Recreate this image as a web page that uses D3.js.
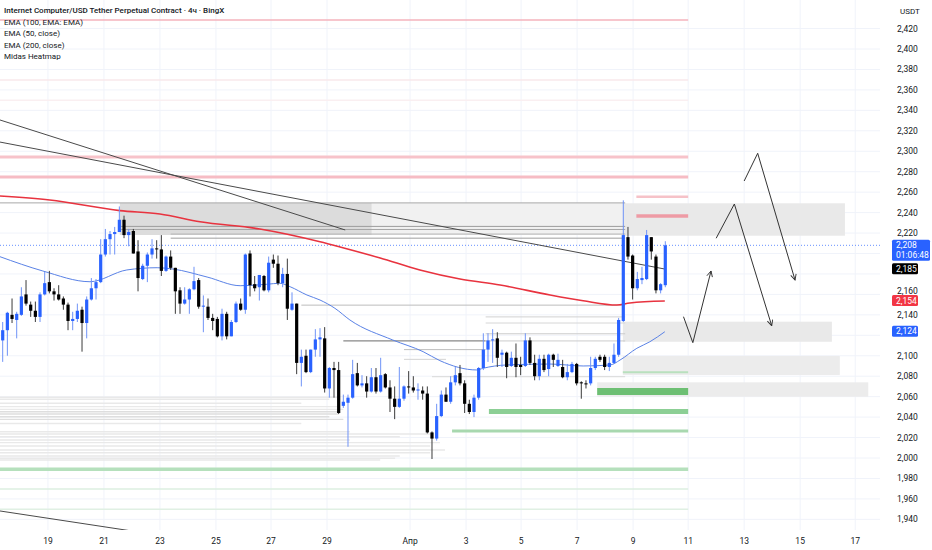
<!DOCTYPE html>
<html>
<head>
<meta charset="utf-8">
<script src="https://d3js.org/d3.v7.min.js"></script>
<style>
body { margin: 0; background: #ffffff; }
svg text { font-family: Roboto, "Open Sans", sans-serif; fill: #131722; }
</style>
</head>
<body>
<svg id="chart" width="932" height="550"></svg>
<script>

// 4h candles (oldest first)
var openP = [2115,2125,2140,2135,2140,2160,2150,2144,2138,2160,2172,2163,2160,2156,2150,2134,2136,2145,2132,2155,
  2166,2172,2199,2214,2219,2221,2233,2218,2222,2202,2175,2188,2199,2205,2204,2183,2197,2186,2164,2151,
  2155,2165,2174,2148,2148,2137,2136,2119,2141,2119,2133,2151,2145,2200,2170,2167,2178,2164,2194,2190,
  2171,2180,2145,2151,2093,2100,2084,2106,2116,2117,2068,2088,2086,2051,2054,2059,2083,2071,2073,2065,
  2079,2065,2082,2069,2058,2050,2058,2070,2069,2066,2066,2063,2025,2019,2041,2062,2055,2074,2083,2073,
  2053,2045,2059,2088,2106,2115,2117,2101,2103,2090,2098,2091,2090,2115,2093,2080,2097,2087,2101,2090,
  2089,2079,2084,2092,2074,2073,2073,2088,2099,2099,2089,2093,2101,2134,2216,2198,2166,2174,2175,2216,
  2197,2164,2169];
var highP = [2133,2143,2156,2143,2167,2174,2153,2153,2162,2182,2183,2166,2169,2158,2152,2143,2151,2148,2158,2176,
  2175,2214,2224,2222,2226,2246,2237,2224,2224,2213,2190,2201,2214,2213,2218,2198,2203,2186,2167,2167,
  2166,2187,2176,2159,2156,2141,2138,2146,2143,2135,2153,2156,2200,2203,2178,2179,2179,2197,2199,2198,
  2186,2195,2162,2151,2106,2106,2106,2126,2127,2128,2089,2094,2094,2062,2062,2096,2093,2081,2080,2088,
  2088,2098,2083,2076,2070,2089,2071,2085,2080,2073,2070,2070,2026,2053,2066,2069,2080,2089,2091,2076,
  2057,2062,2089,2122,2122,2126,2123,2106,2104,2104,2112,2099,2122,2118,2101,2101,2101,2102,2102,2102,
  2096,2092,2094,2093,2075,2076,2099,2099,2101,2101,2099,2112,2137,2252,2226,2199,2182,2187,2223,2216,
  2199,2171,2212];
var lowP = [2094,2100,2132,2117,2139,2149,2138,2133,2133,2159,2161,2154,2154,2145,2125,2125,2133,2104,2117,2154,
  2155,2171,2197,2199,2199,2221,2215,2207,2200,2163,2174,2172,2195,2195,2178,2182,2184,2141,2141,2150,
  2141,2164,2146,2123,2135,2125,2118,2115,2116,2119,2132,2144,2141,2158,2163,2154,2163,2162,2186,2169,
  2167,2135,2144,2082,2070,2083,2083,2099,2099,2064,2059,2059,2043,2049,2011,2058,2070,2069,2059,2064,
  2063,2064,2068,2045,2038,2049,2056,2063,2064,2057,2057,2024,1999,2017,2040,2055,2053,2071,2071,2044,
  2043,2040,2057,2086,2094,2093,2089,2089,2078,2089,2079,2081,2089,2091,2076,2076,2084,2080,2089,2089,
  2078,2076,2083,2071,2058,2068,2071,2086,2094,2086,2085,2092,2099,2133,2194,2155,2164,2170,2174,2194,
  2161,2161,2167];
var closeP = [2125,2142,2136,2141,2158,2151,2144,2138,2160,2171,2163,2160,2155,2150,2134,2136,2144,2132,2155,2166,
  2172,2199,2214,2219,2221,2233,2218,2221,2200,2176,2188,2199,2205,2204,2183,2197,2186,2163,2151,2155,
  2165,2173,2148,2149,2137,2134,2119,2141,2119,2133,2151,2145,2199,2169,2166,2179,2164,2191,2190,2171,
  2180,2146,2151,2093,2099,2084,2106,2116,2118,2068,2088,2086,2044,2055,2059,2082,2071,2073,2065,2079,
  2065,2081,2069,2058,2050,2058,2070,2069,2066,2067,2063,2025,2019,2041,2062,2055,2074,2081,2073,2053,
  2045,2059,2088,2106,2115,2116,2098,2103,2089,2098,2089,2089,2115,2093,2080,2097,2086,2101,2096,2096,
  2079,2084,2092,2073,2073,2072,2088,2097,2096,2089,2093,2101,2135,2218,2197,2166,2175,2176,2218,2202,
  2164,2170,2208];

// EMA 50 (blue) and EMA 200 (red): bar index / price
var ema50Idx = [-0.6,8.6,18.7,26.6,33.1,36.5,43.8,50.9,56.6,59.4,61.6,65.2,68,71.2,74.4,83.6,90.1,93.7,101.6,102.9,108,117.3,124.4,130.2,132.3,135.9,138.7,141.9];
var ema50Val = [2196.9,2182.9,2172.4,2183.9,2186.1,2184.8,2177,2168.5,2169.9,2170.9,2167.5,2159.4,2154.5,2146.4,2135,2115.4,2104,2095.2,2086.1,2087.7,2091,2091.9,2090,2091,2095.8,2107.3,2113.7,2123.5];
var ema200Idx = [-0.6,10.1,25.1,33.7,42.3,55.1,68,72.3,80.9,89.4,98,106.6,117.3,124.4,131.6,134.4,141.9];
var ema200Val = [2256.2,2252.3,2241.9,2238.6,2231.1,2224,2211.5,2206.4,2195.6,2183.9,2175.1,2169.2,2159.4,2153.8,2149.6,2151.6,2153.5];

// axes
var priceTicks = [1940,1960,1980,2000,2020,2040,2060,2080,2100,2120,2140,2160,2180,2200,2220,2240,2260,2280,2300,2320,2340,2360,2380,2400,2420];
var dateLabels = ["19","21","23","25","27","29","Апр","3","5","7","9","11","13","15","17"];
var dateIdx = [9.7,21.7,33.7,45.7,57.5,69.5,87.3,99.3,111.1,123.1,135.1,146.9,158.9,170.9,182.7];

// price tags on the right scale
var tagPrice = [2208,2185,2154,2124];
var tagText = ["2,208","2,185","2,154","2,124"];
var lastTimer = "01:06:48";

// legend
var legendLines = ["Internet Computer/USD Tether Perpetual Contract · 4ч · BingX","EMA (100, EMA: EMA)","EMA (50, close)","EMA (200, close)","Midas Heatmap"];

// hand drawn trend lines: [index, price] pairs
var trendFrom = [[-0.6,2330.6],[-0.6,2309],[-0.6,1948.2]];
var trendTo = [[73.4,2223],[141.9,2184.8],[27.7,1928.6]];

// hand drawn arrow paths
var arrowPts = [
  [[145.9,2138.2],[147.9,2112.8],[151.8,2182.9]],
  [[152.9,2214.9],[156.8,2248.4],[164.8,2129.4]],
  [[158.9,2270.9],[161.8,2298],[169.8,2174.1]]
];

// gray zones: from idx, to idx, top price, bottom price
var zoneFrom = [25.1,79.1,132.9,132.9,132.9,127.4];
var zoneTo = [79.1,133.4,180.5,177.7,179.4,185.5];
var zoneTop = [2249.4,2249.4,2249.1,2133.3,2099.8,2074];
var zoneBot = [2218.1,2218.1,2217.4,2113.7,2081.2,2060];

// heatmap levels
var pinkLevel = [2428.4,2369.7,2350,2294.4,2274.8,2255.6,2236.7];
var pinkFrom = [-1,-1,-1,-1,-1,135.8,135.8];
var greenLevel = [2065,2045.5,2083.8,2026.4,1989,1969.7,1950];
var greenFrom = [127.4,104.2,132.9,96.3,-1,-1,-1];
var heatEnd = 146.9;

var grayLevel = [2249.5,2226.5,2223.5,2219,2215,2149.5,2138,2132,2121.5,2114.5,2114.5,2106,2096.5,2079.5];
var grayFrom = [-1,25,25,36,36,64,103.5,103.5,103.5,73,103.5,86,86,92];
var grayTo = [133.4,133.4,133.4,133.4,133.4,133.4,133.4,133.4,133.4,103.5,133.4,103.5,95,133.4];

var faintLevel = [2059.4,2057.4,2053.5,2050.2,2047.6,2045.3,2043,2040.4,2037.8,2033.8,2025.7,2023.5,2020.8,2017.6,2015,2011.7,2007.8,2005.2,2002,1999.8,1998];
var faintTo = [72,70,64,72,73,72,72,70,73,64,74.4,91.6,85.1,74.4,93.7,91.6,94.8,91.6,85.1,84.1,80.9];

// ---- styles (kept apart from the data) ----
var upColor = "#2962ff", downColor = "#000000";
var pinkStyle = [{c:"#f5b3bc",w:1.6},{c:"#f9e9eb",w:1.5},{c:"#faeff1",w:1.5},{c:"#f7c3ca",w:3},{c:"#f6bcc4",w:3},{c:"#f6c2c8",w:2.5},{c:"#ee9ba5",w:3.5}];
var greenStyle = [{c:"#6dbf73",w:7},{c:"#8ccf95",w:5},{c:"#b9e0be",w:2},{c:"#a8d8af",w:3},{c:"#b5e0bc",w:3.5},{c:"#dcefe0",w:1.5},{c:"#e0f0e3",w:1.5}];
var grayStyle = [{c:"#a8a8a8",w:1},{c:"#9c9c9c",w:1},{c:"#a5a5a5",w:1},{c:"#b3b3b3",w:1},{c:"#9e9e9e",w:1},{c:"#bdbdbd",w:1},{c:"#d2d2d2",w:1},
  {c:"#d6d6d6",w:1},{c:"#cbcbcb",w:1},{c:"#888888",w:1.3},{c:"#cccccc",w:1},{c:"#bdbdbd",w:1},{c:"#d3d3d3",w:1},{c:"#d9d9d9",w:1}];
var zoneFill = ["#dcdcdc","#f1f1f1","#e9e9e9","#e9e9e9","#ececec","#ececec"];

var svg = d3.select("#chart");
var plotRight = 880;

var x = d3.scaleLinear().domain([0, 142]).range([2.7, 665.3]);
var y = d3.scaleLinear().domain([2000, 2420]).range([458, 28.55]);

// grid
svg.append("g").selectAll("line").data(priceTicks).enter().append("line")
  .attr("x1", 0).attr("x2", plotRight)
  .attr("y1", function(d) { return y(d); }).attr("y2", function(d) { return y(d); })
  .attr("stroke", "#f0f3fa").attr("stroke-width", 1);

svg.append("g").selectAll("line").data(dateIdx).enter().append("line")
  .attr("x1", function(d) { return x(d); }).attr("x2", function(d) { return x(d); })
  .attr("y1", 0).attr("y2", 530)
  .attr("stroke", "#f0f3fa").attr("stroke-width", 1);

// heatmap: faint band lines
svg.append("g").selectAll("line").data(faintLevel).enter().append("line")
  .attr("x1", 0).attr("x2", function(d, i) { return x(faintTo[i]); })
  .attr("y1", function(d) { return y(d); }).attr("y2", function(d) { return y(d); })
  .attr("stroke", function(d, i) { return (i > 4 && i < 9) ? "#dedede" : "#e9e9e9"; })
  .attr("stroke-width", 1.4);

// zones
svg.append("g").selectAll("rect").data(zoneFrom).enter().append("rect")
  .attr("x", function(d) { return x(d); })
  .attr("width", function(d, i) { return x(zoneTo[i]) - x(d); })
  .attr("y", function(d, i) { return y(zoneTop[i]); })
  .attr("height", function(d, i) { return y(zoneBot[i]) - y(zoneTop[i]); })
  .attr("fill", function(d, i) { return zoneFill[i]; });

// gray heatmap lines
svg.append("g").selectAll("line").data(grayLevel).enter().append("line")
  .attr("x1", function(d, i) { return Math.max(0, x(grayFrom[i])); })
  .attr("x2", function(d, i) { return x(grayTo[i]); })
  .attr("y1", function(d) { return y(d); }).attr("y2", function(d) { return y(d); })
  .attr("stroke", function(d, i) { return grayStyle[i].c; })
  .attr("stroke-width", function(d, i) { return grayStyle[i].w; });

// pink & green levels
svg.append("g").selectAll("line").data(pinkLevel).enter().append("line")
  .attr("x1", function(d, i) { return Math.max(0, x(pinkFrom[i])); })
  .attr("x2", x(heatEnd))
  .attr("y1", function(d) { return y(d); }).attr("y2", function(d) { return y(d); })
  .attr("stroke", function(d, i) { return pinkStyle[i].c; })
  .attr("stroke-width", function(d, i) { return pinkStyle[i].w; });

svg.append("g").selectAll("line").data(greenLevel).enter().append("line")
  .attr("x1", function(d, i) { return Math.max(0, x(greenFrom[i])); })
  .attr("x2", x(heatEnd))
  .attr("y1", function(d) { return y(d); }).attr("y2", function(d) { return y(d); })
  .attr("stroke", function(d, i) { return greenStyle[i].c; })
  .attr("stroke-width", function(d, i) { return greenStyle[i].w; });

// last price dotted line
svg.append("line")
  .attr("x1", 0).attr("x2", plotRight)
  .attr("y1", y(tagPrice[0])).attr("y2", y(tagPrice[0]))
  .attr("stroke", upColor).attr("stroke-width", 1)
  .attr("stroke-dasharray", "1,2").attr("opacity", 0.7);

// trend lines
svg.append("g").selectAll("line").data(trendFrom).enter().append("line")
  .attr("x1", function(d) { return x(d[0]); }).attr("y1", function(d) { return y(d[1]); })
  .attr("x2", function(d, i) { return x(trendTo[i][0]); }).attr("y2", function(d, i) { return y(trendTo[i][1]); })
  .attr("stroke", "#4a4a4a").attr("stroke-width", 1);

// EMAs
var emaLine = d3.line()
  .x(function(d) { return x(d[0]); })
  .y(function(d) { return y(d[1]); })
  .curve(d3.curveMonotoneX);

svg.append("path")
  .attr("d", emaLine(ema50Idx.map(function(d, i) { return [d, ema50Val[i]]; })))
  .attr("fill", "none").attr("stroke", "#5a82e6").attr("stroke-width", 1);

svg.append("path")
  .attr("d", emaLine(ema200Idx.map(function(d, i) { return [d, ema200Val[i]]; })))
  .attr("fill", "none").attr("stroke", "#e8333f").attr("stroke-width", 1.6);

// candles
var candles = openP.map(function(o, i) {
  return {i: i, o: o, h: highP[i], l: lowP[i], c: closeP[i]};
});

var cg = svg.append("g");
cg.selectAll("line").data(candles).enter().append("line")
  .attr("x1", function(d) { return x(d.i); }).attr("x2", function(d) { return x(d.i); })
  .attr("y1", function(d) { return y(d.h); }).attr("y2", function(d) { return y(d.l); })
  .attr("stroke", function(d) { return d.c >= d.o ? "#6f93f7" : "#3a3a3a"; })
  .attr("stroke-width", 1);

cg.selectAll("rect").data(candles).enter().append("rect")
  .attr("x", function(d) { return x(d.i) - 1.6; })
  .attr("width", 3.2)
  .attr("y", function(d) { return y(Math.max(d.o, d.c)); })
  .attr("height", function(d) { return Math.max(1, Math.abs(y(d.o) - y(d.c))); })
  .attr("fill", function(d) { return d.c >= d.o ? upColor : downColor; });

// arrows
var defs = svg.append("defs");
defs.append("marker")
  .attr("id", "head")
  .attr("viewBox", "0 0 10 10")
  .attr("refX", 9).attr("refY", 5)
  .attr("markerWidth", 7).attr("markerHeight", 7)
  .attr("markerUnits", "userSpaceOnUse")
  .attr("orient", "auto")
  .append("path")
  .attr("d", "M1,1 L9,5 L1,9")
  .attr("fill", "none").attr("stroke", "#333").attr("stroke-width", 1.3);

var arrowLine = d3.line()
  .x(function(d) { return x(d[0]); })
  .y(function(d) { return y(d[1]); });

svg.append("g").selectAll("path").data(arrowPts).enter().append("path")
  .attr("d", function(d) { return arrowLine(d); })
  .attr("fill", "none").attr("stroke", "#333").attr("stroke-width", 1)
  .attr("marker-end", "url(#head)");

// right price scale
svg.append("rect").attr("x", plotRight).attr("y", 0).attr("width", 932 - plotRight).attr("height", 550).attr("fill", "#fff");
svg.append("rect").attr("x", 0).attr("y", 530).attr("width", plotRight).attr("height", 20).attr("fill", "#fff");

svg.append("text").attr("x", 900).attr("y", 14).attr("font-size", "8px").text("USDT");

// tag boxes: the first one is taller (price + countdown)
var tagTop = tagPrice.map(function(p) { return y(p) - 5.5; });
var tagH = tagPrice.map(function(p, i) { return i === 0 ? 21 : 11; });

// a tick label that sits under a tag is not shown, like on the source
var visibleTicks = priceTicks.filter(function(t) {
  var ty = y(t);
  return !tagTop.some(function(top, i) { return ty > top && ty < top + tagH[i] + 2; });
});

// labels just above a tag are nudged up so they clear it
var tickBase = function(t) {
  var b = y(t) + 3;
  tagTop.forEach(function(top) {
    if (b > top - 1 && b < top + 6) b = top - 1;
  });
  return b;
};

svg.append("g").selectAll("text").data(visibleTicks).enter().append("text")
  .attr("x", 897)
  .attr("y", function(d) { return tickBase(d); })
  .attr("font-size", "8.5px")
  .text(function(d) { return d3.format(",")(d); });

var tagFill = [upColor, "#000000", "#f23645", upColor];
var tags = svg.append("g");
tagPrice.forEach(function(p, i) {
  tags.append("rect")
    .attr("x", 892).attr("y", tagTop[i])
    .attr("width", i === 0 ? 38 : 26).attr("height", tagH[i])
    .attr("rx", 1.5)
    .attr("fill", tagFill[i]);
  tags.append("text")
    .attr("x", 896).attr("y", tagTop[i] + 8.5)
    .attr("font-size", "8.5px")
    .style("fill", "#ffffff")
    .text(tagText[i]);
});
tags.append("text")
  .attr("x", 896).attr("y", tagTop[0] + 18.5)
  .attr("font-size", "8.5px")
  .style("fill", "#ffffff")
  .text(lastTimer);

// date axis
svg.append("g").selectAll("text").data(dateLabels).enter().append("text")
  .attr("x", function(d, i) { return x(dateIdx[i]); })
  .attr("y", 544)
  .attr("text-anchor", "middle")
  .attr("font-size", "8.5px")
  .text(function(d) { return d; });

// legend
svg.append("g").selectAll("text").data(legendLines).enter().append("text")
  .attr("x", 4)
  .attr("y", function(d, i) { return 13 + i * 11.5; })
  .attr("font-size", "8px")
  .attr("font-weight", function(d, i) { return i === 0 ? 500 : 400; })
  .text(function(d) { return d; });

</script>
</body>
</html>
